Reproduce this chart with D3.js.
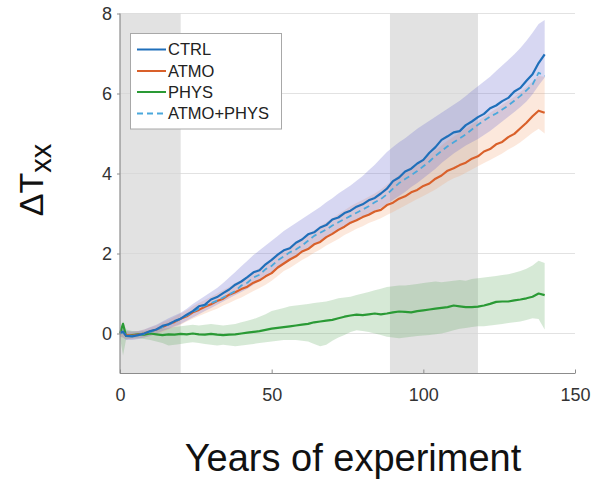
<!DOCTYPE html>
<html>
<head>
<meta charset="utf-8">
<script src="https://cdn.jsdelivr.net/npm/d3@7"></script>
<style>
  html, body { margin: 0; padding: 0; background: #ffffff; }
  svg { display: block; font-family: "Liberation Sans", Arial, sans-serif; }
</style>
</head>
<body>
<svg id="chart" width="596" height="482"></svg>
<script>
// ---------------- data ----------------
const years = [0,1,2,4,6,8,10,12,14,16, 18,20,22,24,26,28,30,32,34,36,
  38,40,42,44,46,48,50,52,54,56, 58,60,62,64,66,68,70,72,74,76,
  78,80,82,84,86,88,90,92,94,96, 98,100,102,104,106,108,110,112,114,116,
  118,120,122,124,126,128,130,132,134,136, 138,140];

const ctrl = [0.02,0.05,-0.06,-0.07,-0.04,0.0,0.06,0.1,0.19,0.23,
  0.31,0.37,0.47,0.56,0.68,0.72,0.85,0.91,1.01,1.1,
  1.22,1.3,1.41,1.53,1.58,1.73,1.84,1.97,2.08,2.13,
  2.27,2.35,2.48,2.53,2.65,2.71,2.85,2.9,3.01,3.07,
  3.17,3.23,3.33,3.39,3.5,3.62,3.81,3.9,4.05,4.12,
  4.25,4.34,4.52,4.66,4.84,4.93,5.03,5.06,5.21,5.3,
  5.41,5.49,5.63,5.7,5.81,5.89,6.05,6.14,6.32,6.48,
  6.76,6.98];
const ctrlUpper = [0.1,0.12,0.06,0.05,0.06,0.1,0.16,0.22,0.3,0.38,
  0.45,0.52,0.62,0.74,0.84,0.94,1.04,1.14,1.26,1.4,
  1.54,1.68,1.82,1.96,2.08,2.2,2.32,2.44,2.56,2.66,
  2.76,2.86,2.96,3.06,3.16,3.28,3.38,3.5,3.6,3.7,
  3.82,3.94,4.08,4.22,4.38,4.54,4.66,4.78,4.88,5.0,
  5.12,5.22,5.32,5.42,5.52,5.62,5.72,5.82,5.94,6.06,
  6.18,6.3,6.42,6.56,6.7,6.84,6.98,7.14,7.32,7.52,
  7.74,7.84];
const ctrlLower = [-0.08,-0.1,-0.16,-0.16,-0.14,-0.1,-0.06,0.0,0.06,0.12,
  0.18,0.24,0.32,0.4,0.48,0.56,0.64,0.72,0.8,0.88,
  0.96,1.04,1.12,1.22,1.32,1.42,1.52,1.62,1.72,1.82,
  1.92,2.02,2.1,2.2,2.3,2.38,2.48,2.56,2.66,2.74,
  2.82,2.9,2.98,3.06,3.14,3.24,3.34,3.44,3.54,3.66,
  3.76,3.88,4.0,4.12,4.26,4.38,4.5,4.6,4.7,4.78,
  4.86,4.96,5.06,5.18,5.3,5.42,5.54,5.66,5.8,5.98,
  6.2,6.4];

const atmo = [0.0,0.03,-0.04,-0.05,-0.03,0.0,0.05,0.1,0.16,0.23,
  0.29,0.37,0.43,0.53,0.59,0.67,0.73,0.81,0.87,0.97,
  1.03,1.11,1.17,1.27,1.33,1.43,1.51,1.65,1.75,1.85,
  1.93,2.05,2.11,2.23,2.29,2.41,2.49,2.59,2.67,2.77,
  2.83,2.91,2.97,3.05,3.09,3.21,3.27,3.37,3.43,3.53,
  3.59,3.69,3.75,3.87,3.95,4.07,4.13,4.21,4.27,4.37,
  4.43,4.55,4.61,4.73,4.79,4.91,4.99,5.13,5.27,5.43,
  5.57,5.52];
const atmoUpper = [0.08,0.1,0.05,0.04,0.06,0.1,0.15,0.2,0.28,0.34,
  0.42,0.5,0.58,0.68,0.76,0.84,0.92,1.0,1.08,1.16,
  1.26,1.34,1.44,1.54,1.64,1.74,1.84,1.96,2.08,2.18,
  2.28,2.38,2.48,2.58,2.68,2.78,2.88,2.98,3.08,3.18,
  3.26,3.34,3.42,3.5,3.6,3.72,3.84,3.96,4.06,4.16,
  4.26,4.36,4.46,4.58,4.7,4.82,4.92,5.02,5.12,5.22,
  5.32,5.42,5.52,5.62,5.72,5.82,5.92,6.04,6.16,6.3,
  6.44,6.42];
const atmoLower = [-0.08,-0.1,-0.14,-0.14,-0.12,-0.1,-0.06,-0.02,0.04,0.1,
  0.16,0.22,0.3,0.37,0.44,0.5,0.56,0.62,0.7,0.76,
  0.84,0.9,0.98,1.06,1.14,1.22,1.32,1.44,1.56,1.64,
  1.74,1.84,1.92,2.02,2.1,2.2,2.28,2.36,2.46,2.54,
  2.62,2.68,2.76,2.82,2.88,2.96,3.04,3.12,3.2,3.28,
  3.36,3.44,3.52,3.6,3.7,3.8,3.88,3.94,4.02,4.1,
  4.18,4.26,4.34,4.42,4.5,4.6,4.68,4.78,4.9,5.02,
  5.12,5.0];

const phys = [0.0,0.24,-0.06,-0.04,-0.02,-0.03,0.0,-0.02,-0.04,-0.02,
  -0.03,-0.01,-0.02,0.0,-0.02,-0.03,-0.01,-0.03,-0.04,-0.03,
  -0.02,0.0,0.02,0.04,0.06,0.09,0.12,0.14,0.16,0.18,
  0.2,0.22,0.24,0.28,0.3,0.32,0.34,0.38,0.42,0.45,
  0.47,0.46,0.48,0.5,0.48,0.5,0.53,0.55,0.54,0.53,
  0.56,0.58,0.6,0.62,0.64,0.66,0.7,0.68,0.66,0.66,
  0.67,0.7,0.74,0.79,0.8,0.8,0.83,0.85,0.88,0.92,
  1.0,0.96];
const physUpper = [0.1,0.3,0.1,0.06,0.05,0.06,0.08,0.1,0.12,0.14,
  0.16,0.18,0.2,0.22,0.2,0.22,0.24,0.22,0.2,0.22,
  0.24,0.28,0.32,0.36,0.42,0.48,0.56,0.6,0.64,0.68,
  0.7,0.72,0.74,0.76,0.78,0.8,0.84,0.88,0.9,0.92,
  0.96,1.0,1.04,1.08,1.12,1.16,1.18,1.2,1.2,1.22,
  1.24,1.26,1.28,1.3,1.28,1.3,1.32,1.34,1.32,1.36,
  1.38,1.4,1.42,1.44,1.46,1.48,1.52,1.56,1.62,1.7,
  1.82,1.76];
const physLower = [-0.1,-0.55,-0.15,-0.12,-0.12,-0.14,-0.16,-0.2,-0.24,-0.3,
  -0.28,-0.26,-0.24,-0.22,-0.24,-0.26,-0.28,-0.3,-0.28,-0.3,
  -0.32,-0.3,-0.28,-0.26,-0.24,-0.22,-0.2,-0.18,-0.16,-0.16,
  -0.16,-0.18,-0.2,-0.26,-0.32,-0.28,-0.18,-0.1,-0.04,0.04,
  0.08,0.06,0.04,0.0,-0.04,-0.08,-0.1,-0.12,-0.1,-0.08,
  -0.06,-0.05,-0.04,-0.02,0.0,0.04,0.08,0.12,0.14,0.16,
  0.18,0.18,0.2,0.22,0.24,0.26,0.28,0.3,0.34,0.38,
  0.36,0.1];

const atmoPhys = [0.0,0.02,-0.05,-0.06,-0.04,-0.01,0.04,0.1,0.16,0.22,
  0.3,0.37,0.45,0.54,0.62,0.7,0.76,0.82,0.9,0.98,
  1.06,1.2,1.27,1.4,1.47,1.61,1.69,1.83,1.93,2.03,
  2.1,2.2,2.32,2.44,2.52,2.6,2.7,2.78,2.86,2.94,
  3.02,3.1,3.18,3.28,3.36,3.48,3.62,3.76,3.86,3.96,
  4.06,4.18,4.3,4.44,4.56,4.68,4.78,4.88,4.98,5.1,
  5.22,5.32,5.42,5.5,5.6,5.7,5.82,5.94,6.08,6.22,
  6.52,6.44];

const shadedPeriods = [[0, 20], [89, 118]];
const xTicks = [0, 50, 100, 150];
const yTicks = [0, 2, 4, 6, 8];
const seriesNames = ["CTRL", "ATMO", "PHYS", "ATMO+PHYS"];
const seriesColors = ["#1f6fba", "#d9602a", "#2a9a35", "#4aa8dc"];

// ---------------- chart ----------------
const svg = d3.select("#chart");
const x = d3.scaleLinear().domain([0, 150]).range([120, 575]);
const y = d3.scaleLinear().domain([-1, 8]).range([373.5, 13.5]);

// shaded periods
svg.append("g").selectAll("rect").data(shadedPeriods).join("rect")
  .attr("x", d => x(d[0])).attr("width", d => x(d[1]) - x(d[0]))
  .attr("y", y(8)).attr("height", y(-1) - y(8))
  .attr("fill", "#e2e2e2");

// gridlines
svg.append("g").selectAll("line").data(yTicks).join("line")
  .attr("x1", x(0)).attr("x2", x(150))
  .attr("y1", d => y(d)).attr("y2", d => y(d))
  .attr("stroke", "#d6d6d6").attr("stroke-opacity", 0.7).attr("stroke-width", 1);

const idx = d3.range(years.length);
function band(lo, hi, color, op) {
  svg.append("path")
    .datum(idx)
    .attr("d", d3.area().x(i => x(years[i])).y0(i => y(lo[i])).y1(i => y(hi[i])))
    .attr("fill", color).attr("fill-opacity", op).attr("stroke", "none");
}
band(physLower, physUpper, "#5aa95a", 0.25);
band(atmoLower, atmoUpper, "#f4a574", 0.25);
band(ctrlLower, ctrlUpper, "#6b6bd0", 0.27);

function line(vals, color, dash, w) {
  svg.append("path")
    .datum(idx)
    .attr("d", d3.line().x(i => x(years[i])).y(i => y(vals[i])))
    .attr("fill", "none").attr("stroke", color).attr("stroke-width", w)
    .attr("stroke-linejoin", "round")
    .attr("stroke-dasharray", dash);
}
line(phys, seriesColors[2], null, 2.2);
line(atmo, seriesColors[1], null, 2.2);
line(atmoPhys, seriesColors[3], "6,4", 1.8);
line(ctrl, seriesColors[0], null, 2.2);

// axes
const xAxis = svg.append("g").attr("transform", `translate(0,${y(-1)})`)
  .call(d3.axisBottom(x).tickValues(xTicks).tickSize(-4).tickPadding(15));
const yAxis = svg.append("g").attr("transform", `translate(${x(0)},0)`)
  .call(d3.axisLeft(y).tickValues(yTicks).tickSize(3).tickPadding(5));
[xAxis, yAxis].forEach(g => {
  g.select(".domain").attr("stroke", "#8c8c8c").attr("stroke-width", 1.2);
  g.selectAll(".tick line").attr("stroke", "#8c8c8c");
  g.selectAll(".tick text").attr("fill", "#333").attr("font-size", 18)
    .attr("font-family", "Liberation Sans, Arial, sans-serif");
});
yAxis.select(".domain").attr("d", `M0,${y(8)}V${y(-1)}`);
xAxis.select(".domain").attr("d", `M${x(0)},0H${x(150)}`);

// axis labels
svg.append("text")
  .attr("x", 353).attr("y", 471)
  .attr("text-anchor", "middle").attr("font-size", 38).attr("fill", "#111")
  .text("Years of experiment");

const yl = svg.append("text")
  .attr("transform", "translate(43,180) rotate(-90)")
  .attr("text-anchor", "middle").attr("fill", "#111");
yl.append("tspan").attr("font-size", 34).text("ΔT");
yl.append("tspan").attr("font-size", 29).attr("dy", 8).text("xx");

// legend
const lg = svg.append("g");
lg.append("rect").attr("x", 130.5).attr("y", 33.5).attr("width", 151).attr("height", 95.5)
  .attr("fill", "#ffffff").attr("stroke", "#a8a8a8").attr("stroke-width", 1);
const rows = [49.5, 71, 92, 113.5];
seriesNames.forEach((name, i) => {
  lg.append("line").attr("x1", 137).attr("x2", 166).attr("y1", rows[i]).attr("y2", rows[i])
    .attr("stroke", seriesColors[i]).attr("stroke-width", 2)
    .attr("stroke-dasharray", i === 3 ? "6,4" : null);
  lg.append("text").attr("x", 168).attr("y", rows[i]).attr("dy", "0.36em")
    .attr("font-size", 16.5).attr("fill", "#222").text(name);
});
</script>
</body>
</html>
